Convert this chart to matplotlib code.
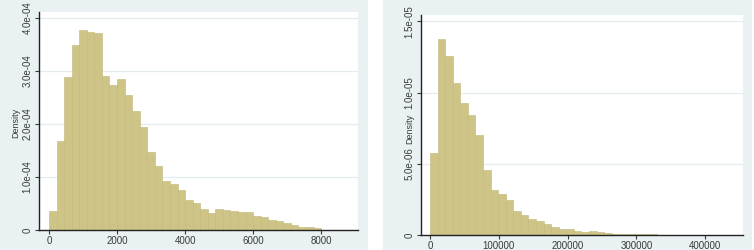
import numpy as np
import matplotlib
matplotlib.use("Agg")
import matplotlib.pyplot as plt
from matplotlib.patches import Rectangle

plt.rcParams['font.family'] = ['Liberation Sans', 'DejaVu Sans']

# left histogram: 36 bins over 0..8000, density values
left_lo, left_hi = 0, 8000
left_density = [0.35, 1.67, 2.89, 3.49, 3.77, 3.74, 3.72, 2.91, 2.74, 2.85,
                2.54, 2.24, 1.94, 1.47, 1.20, 0.915, 0.87, 0.745, 0.57, 0.505,
                0.40, 0.315, 0.40, 0.37, 0.35, 0.33, 0.33, 0.265, 0.24, 0.19,
                0.17, 0.126, 0.088, 0.063, 0.063, 0.03]  # x 1e-4
left_yticks = [0, 1e-4, 2e-4, 3e-4, 4e-4]
left_ylabels = ["0", "1.0e-04", "2.0e-04", "3.0e-04", "4.0e-04"]
left_xticks = [0, 2000, 4000, 6000, 8000]

# right histogram: 40 bins over 0..440000
right_lo, right_hi = 0, 440000
right_density = [5.76, 13.75, 12.6, 10.7, 9.25, 8.45, 7.0, 4.54, 3.18, 2.9,
                 2.44, 1.66, 1.38, 1.15, 1.0, 0.75, 0.56, 0.45, 0.45, 0.30,
                 0.23, 0.30, 0.23, 0.12, 0.09, 0.09, 0.08, 0.07, 0.05, 0.04,
                 0.03, 0.03, 0.02, 0.02, 0.01, 0.01, 0.01, 0.01, 0.01, 0.01]  # x 1e-6
right_yticks = [0, 5e-6, 1e-5, 1.5e-5]
right_ylabels = ["0", "5.0e-06", "1.0e-05", "1.5e-05"]
right_xticks = [0, 100000, 200000, 300000, 400000]

bar_face = "#CEC487"
bar_edge = "#C2B878"
region = "#EAF1F3"
txt = "#3a3a3a"

fig = plt.figure(figsize=(7.54, 2.5), dpi=100)
fig.patch.set_facecolor("white")

# stata-like graph regions, behind the axes
fig.patches.append(Rectangle((0, 0), 368 / 754, 1, transform=fig.transFigure,
                             facecolor=region, edgecolor="none", zorder=-10))
fig.patches.append(Rectangle((383 / 754, 0), 369 / 754, 1, transform=fig.transFigure,
                             facecolor=region, edgecolor="none", zorder=-10))


def draw_hist(ax, lo, hi, dens, scale, yticks, ylabels, xticks, xlim, ylim, lab_xy):
    n = len(dens)
    edges = np.linspace(lo, hi, n + 1)
    width = edges[1] - edges[0]
    vals = np.array(dens) * scale
    ax.bar(edges[:-1], vals, width=width, align="edge", color=bar_face,
           edgecolor=bar_edge, linewidth=0.4, zorder=2)
    ax.set_xlim(*xlim)
    ax.set_ylim(*ylim)
    ax.set_facecolor("white")
    for s in ["top", "right"]:
        ax.spines[s].set_visible(False)
    for s in ["left", "bottom"]:
        ax.spines[s].set_color("#222222")
        ax.spines[s].set_linewidth(1.0)
    ax.set_yticks(yticks)
    ax.set_yticklabels(ylabels, rotation=90, va="center")
    ax.set_xticks(xticks)
    ax.set_xticklabels([str(t) for t in xticks])
    ax.tick_params(axis="both", labelsize=7, colors=txt, length=3, width=0.8, pad=1.5)
    for t in yticks[1:]:
        ax.axhline(t, color="#E4ECEF", linewidth=0.9, zorder=1)
    ax.set_ylabel("Density", fontsize=6.5, color=txt)
    ax.yaxis.set_label_coords(*lab_xy)


ax1 = fig.add_axes([39 / 754, 1 - 230 / 250, 319 / 754, 218 / 250])
draw_hist(ax1, left_lo, left_hi, left_density, 1e-4, left_yticks, left_ylabels,
          left_xticks, (-295, 9085), (0, 4.11e-4), (-0.058, 0.49))

ax2 = fig.add_axes([421 / 754, 1 - 235 / 250, 322 / 754, 220 / 250])
draw_hist(ax2, right_lo, right_hi, right_density, 1e-6, right_yticks, right_ylabels,
          right_xticks, (-13000, 454800), (0, 1.545e-5), (-0.022, 0.48))

fig.savefig("out.png", dpi=100, facecolor=fig.get_facecolor())
